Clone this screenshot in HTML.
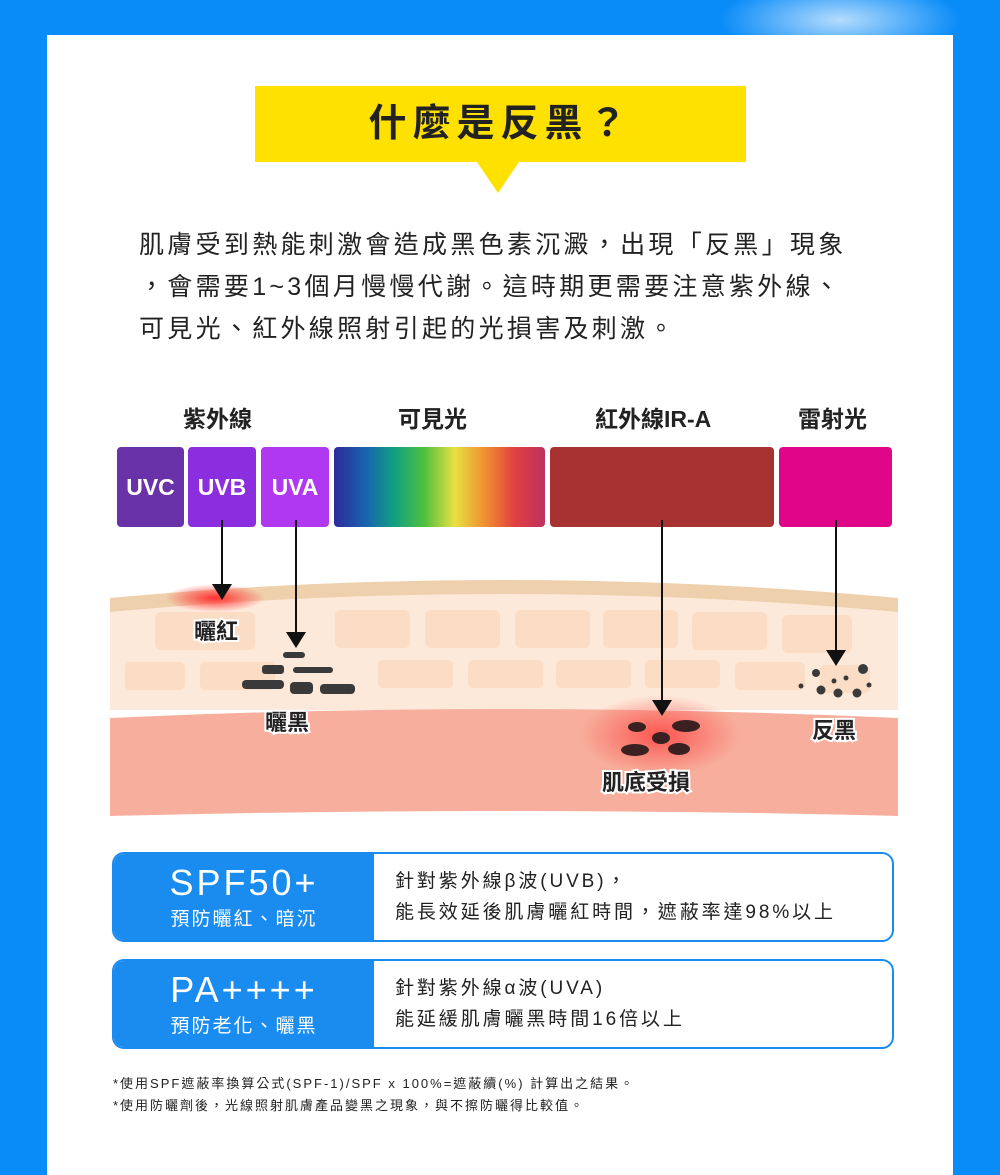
<!DOCTYPE html>
<html><head><meta charset="utf-8">
<style>
body{margin:0;width:1000px;height:1163px;overflow:hidden;background:#0a8cf8;font-family:"Liberation Sans","Noto Sans CJK TC",sans-serif;position:relative}
.a{position:absolute}
.panel{left:47px;top:35px;width:906px;height:1140px;background:#fff}
.t{white-space:nowrap;color:#222}
.bar{position:absolute;top:447px;height:80px;border-radius:4px;color:#fff;font-weight:bold;font-size:23px;display:flex;align-items:center;justify-content:center}
.box{position:absolute;left:112px;width:778px;height:86px;border:2px solid #1a8cf0;border-radius:12px;overflow:hidden;background:#fff}
.box .l{position:absolute;left:0;top:0;width:260px;height:100%;background:#1a8cf0;color:#fff;text-align:center}
.box .r{position:absolute;left:281px;top:12px;font-size:19px;line-height:31px;letter-spacing:2.9px;color:#222}
</style></head><body>
<svg class="a" style="left:0;top:0" width="1000" height="80"><defs><radialGradient id="s" cx="0.5" cy="0.5" r="0.5"><stop offset="0" stop-color="#fff"/><stop offset="1" stop-color="#fff" stop-opacity="0"/></radialGradient></defs>
<ellipse cx="840" cy="20" rx="120" ry="40" fill="url(#s)" opacity="0.7"/></svg>
<div class="a panel"></div>
<div class="a" style="left:255px;top:86px;width:491px;height:76px;background:#ffe100"></div>
<div class="a" style="left:477px;top:162px;width:0;height:0;border-left:21px solid transparent;border-right:21px solid transparent;border-top:31px solid #ffe100"></div>
<div class="a t" style="left:255px;top:86px;width:491px;height:76px;line-height:76px;text-align:center;font-size:38px;font-weight:bold;letter-spacing:6px">什麼是反黑？</div>
<div class="a t" style="left:139px;top:224px;font-size:25px;line-height:42px;letter-spacing:3.3px">肌膚受到熱能刺激會造成黑色素沉澱，出現「反黑」現象<br>，會需要1~3個月慢慢代謝。這時期更需要注意紫外線、<br>可見光、紅外線照射引起的光損害及刺激。</div>
<div class="a t" style="left:183px;top:400px;font-size:23px;font-weight:bold">紫外線</div>
<div class="a t" style="left:398px;top:400px;font-size:23px;font-weight:bold">可見光</div>
<div class="a t" style="left:595px;top:400px;font-size:23px;font-weight:bold">紅外線IR-A</div>
<div class="a t" style="left:798px;top:400px;font-size:23px;font-weight:bold">雷射光</div>
<div class="bar" style="left:117px;width:67px;background:#6a32a8">UVC</div>
<div class="bar" style="left:188px;width:68px;background:#8a2ee0">UVB</div>
<div class="bar" style="left:261px;width:68px;background:#b038f0">UVA</div>
<div class="bar" style="left:334px;width:211px;background:linear-gradient(90deg,#2c2a9a,#1a60b0,#10a080,#50c040,#e8e040,#f09030,#e04040,#c03060)"></div>
<div class="bar" style="left:550px;width:224px;background:#a83232"></div>
<div class="bar" style="left:779px;width:113px;background:#e0068a"></div>
<svg class="a" style="left:0;top:520px" width="1000" height="310">
<defs><radialGradient id="r" cx="0.5" cy="0.5" r="0.5"><stop offset="0" stop-color="#ff3030"/><stop offset="1" stop-color="#ff3030" stop-opacity="0"/></radialGradient></defs>
<path d="M110,86 Q500,50 898,86 L898,190 L110,190 Z" fill="#fde9da"/>
<path d="M110,78 Q500,42 898,78 L898,92 Q500,56 110,92 Z" fill="#efd0ad"/>
<g fill="#fbdcc4">
<rect x="155" y="92" width="100" height="38" rx="6"/><rect x="335" y="90" width="75" height="38" rx="6"/><rect x="425" y="90" width="75" height="38" rx="6"/><rect x="515" y="90" width="75" height="38" rx="6"/><rect x="603" y="90" width="75" height="38" rx="6"/><rect x="692" y="92" width="75" height="38" rx="6"/><rect x="782" y="95" width="70" height="38" rx="6"/>
<rect x="125" y="142" width="60" height="28" rx="5"/><rect x="200" y="142" width="75" height="28" rx="5"/><rect x="378" y="140" width="75" height="28" rx="5"/><rect x="468" y="140" width="75" height="28" rx="5"/><rect x="556" y="140" width="75" height="28" rx="5"/><rect x="645" y="140" width="75" height="28" rx="5"/><rect x="735" y="142" width="70" height="28" rx="5"/><rect x="820" y="145" width="50" height="28" rx="5"/></g>
<path d="M110,198 Q500,180 898,198 L898,296 Q500,286 110,296 Z" fill="#f7ae9c"/>
<ellipse cx="215" cy="78" rx="50" ry="14" fill="url(#r)"/>
<ellipse cx="660" cy="215" rx="80" ry="40" fill="url(#r)" opacity="0.7"/>
<g fill="#3a3a3a"><rect x="283" y="132" width="22" height="6" rx="3"/><rect x="262" y="145" width="22" height="9" rx="3"/><rect x="293" y="147" width="40" height="6" rx="3"/><rect x="242" y="160" width="42" height="9" rx="4"/><rect x="290" y="162" width="23" height="12" rx="4"/><rect x="320" y="164" width="35" height="10" rx="4"/></g>
<g fill="#3a2020"><ellipse cx="637" cy="207" rx="9" ry="5"/><ellipse cx="686" cy="206" rx="14" ry="6"/><ellipse cx="661" cy="218" rx="9" ry="6"/><ellipse cx="635" cy="230" rx="14" ry="6"/><ellipse cx="679" cy="229" rx="11" ry="6"/></g>
<g fill="#3a3a3a"><circle cx="816" cy="153" r="4"/><circle cx="834" cy="161" r="2.5"/><circle cx="846" cy="158" r="2.5"/><circle cx="863" cy="149" r="5"/><circle cx="801" cy="166" r="2.5"/><circle cx="821" cy="170" r="4.5"/><circle cx="838" cy="173" r="4.5"/><circle cx="857" cy="173" r="4.5"/><circle cx="869" cy="165" r="2.5"/></g>
<g stroke="#111" stroke-width="2"><line x1="222" y1="0" x2="222" y2="64"/><line x1="296" y1="0" x2="296" y2="114"/><line x1="662" y1="0" x2="662" y2="180"/><line x1="836" y1="0" x2="836" y2="130"/></g>
<g fill="#111"><polygon points="212,64 232,64 222,80"/><polygon points="286,112 306,112 296,128"/><polygon points="652,180 672,180 662,196"/><polygon points="826,130 846,130 836,146"/></g>
<g font-weight="bold" font-size="22" fill="#222" stroke="#fff" stroke-width="4" paint-order="stroke" font-family="Liberation Sans,Noto Sans CJK TC,sans-serif">
<text x="194" y="119">曬紅</text><text x="265" y="210">曬黑</text><text x="602" y="270">肌底受損</text><text x="812" y="218">反黑</text></g>
</svg>
<div class="box" style="top:852px"><div class="l"><div style="font-size:36px;letter-spacing:3px;margin-top:8px">SPF50+</div><div style="font-size:19px;letter-spacing:2px">預防曬紅、暗沉</div></div><div class="r">針對紫外線β波(UVB)，<br>能長效延後肌膚曬紅時間，遮蔽率達98%以上</div></div>
<div class="box" style="top:959px"><div class="l"><div style="font-size:36px;letter-spacing:3px;margin-top:8px">PA++++</div><div style="font-size:19px;letter-spacing:2px">預防老化、曬黑</div></div><div class="r">針對紫外線α波(UVA)<br>能延緩肌膚曬黑時間16倍以上</div></div>
<div class="a t" style="left:113px;top:1073px;font-size:13px;line-height:22px;letter-spacing:2px">*使用SPF遮蔽率換算公式(SPF-1)/SPF x 100%=遮蔽續(%) 計算出之結果。<br>*使用防曬劑後，光線照射肌膚產品變黑之現象，與不擦防曬得比較值。</div>
</body></html>
